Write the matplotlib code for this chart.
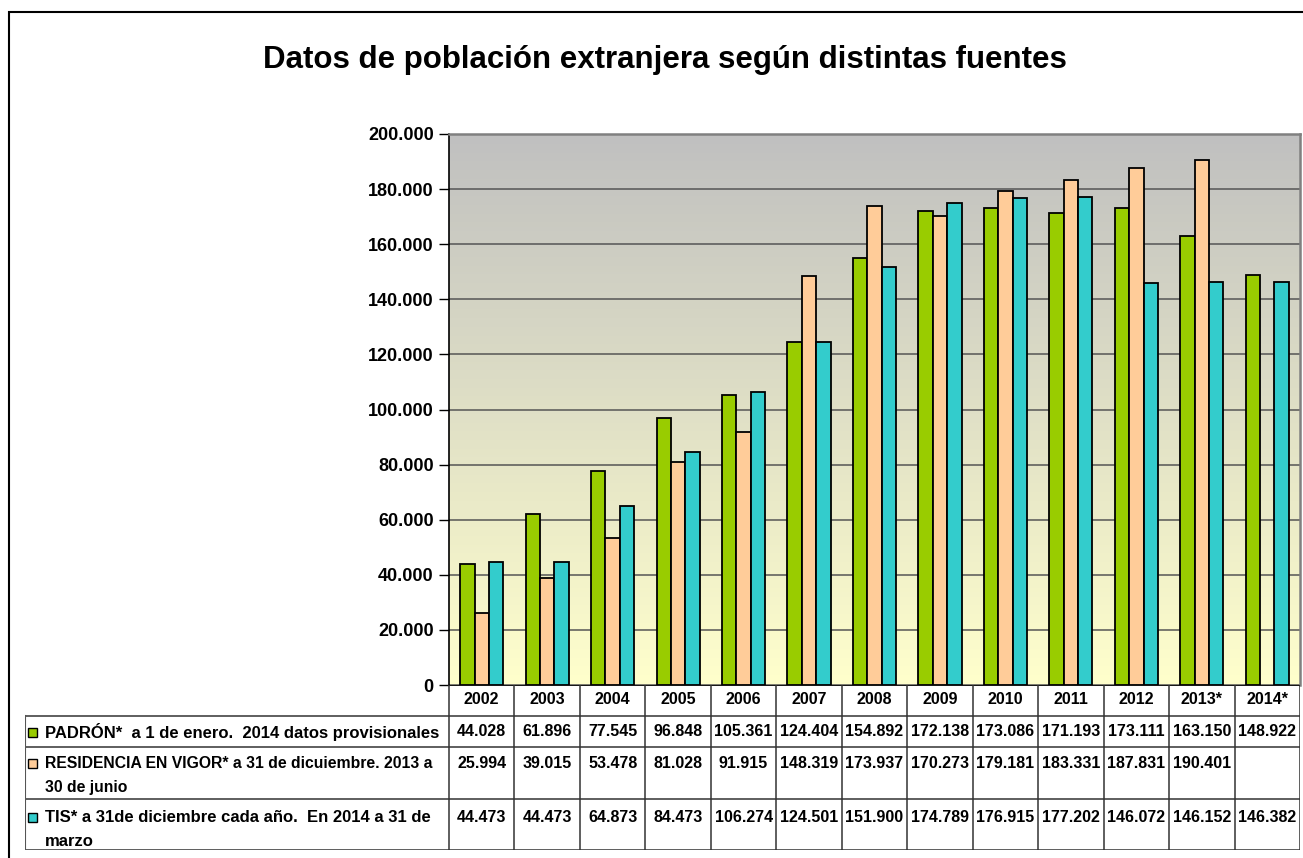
import numpy as np
import matplotlib
matplotlib.use('Agg')
import matplotlib.pyplot as plt
from matplotlib.patches import Rectangle
from matplotlib.ticker import FuncFormatter

plt.rcParams['font.family'] = ['Liberation Sans', 'DejaVu Sans']

years = ['2002', '2003', '2004', '2005', '2006', '2007', '2008', '2009',
         '2010', '2011', '2012', '2013*', '2014*']
padron = [44028, 61896, 77545, 96848, 105361, 124404, 154892, 172138,
          173086, 171193, 173111, 163150, 148922]
residencia = [25994, 39015, 53478, 81028, 91915, 148319, 173937, 170273,
              179181, 183331, 187831, 190401, np.nan]
tis = [44473, 44473, 64873, 84473, 106274, 124501, 151900, 174789,
       176915, 177202, 146072, 146152, 146382]

series_labels = ['PADRÓN*  a 1 de enero.  2014 datos provisionales',
                 'RESIDENCIA EN VIGOR* a 31 de dicuiembre. 2013 a\n30 de junio',
                 'TIS* a 31de diciembre cada año.  En 2014 a 31 de\nmarzo']
colors = ['#99CC00', '#FFCC99', '#33CCCC']
title = 'Datos de población extranjera según distintas fuentes'


def miles(v):
    return f'{int(v):,}'.replace(',', '.')


W, H = 1303, 858
fig = plt.figure(figsize=(W / 100, H / 100), dpi=100)

# outer frame (cut off at right/bottom like the original)
fig.patches.append(Rectangle((9 / W, -0.1), 1.2, 1 - 12 / H + 0.1, transform=fig.transFigure,
                             fill=False, edgecolor='black', linewidth=1.5))

fig.text(665 / W, 1 - 60 / H, title, ha='center', va='center', fontsize=22.5, fontweight='bold')

# main plot
ax = fig.add_axes([449 / W, 1 - 685 / H, (1300 - 449) / W, (685 - 134) / H])
x = np.arange(len(years))
ax.set_xlim(-0.5, len(years) - 0.5)
ax.set_ylim(0, 200000)

grad = np.linspace(0, 1, 256)[:, None]
top = np.array([192, 192, 192]) / 255
bot = np.array([255, 255, 204]) / 255
img = top[None, None, :] * (1 - grad[:, :, None]) + bot[None, None, :] * grad[:, :, None]
ax.imshow(img, extent=[-0.5, len(years) - 0.5, 0, 200000], aspect='auto', zorder=0)

ax.set_yticks(np.arange(0, 200001, 20000))
ax.yaxis.set_major_formatter(FuncFormatter(lambda v, p: miles(v)))
ax.grid(axis='y', color='#555555', linewidth=1.1, zorder=1)
ax.set_axisbelow(True)
ax.tick_params(axis='y', length=7, width=1, labelsize=13, pad=4)
for lab in ax.get_yticklabels():
    lab.set_fontweight('bold')
ax.set_xticks([])

bw = 0.22
for i, (vals, c) in enumerate(zip([padron, residencia, tis], colors)):
    ax.bar(x + (i - 1) * bw, vals, width=bw, color=c, edgecolor='black', linewidth=1.3, zorder=3)

for s in ['top', 'right']:
    ax.spines[s].set_color('#808080')
    ax.spines[s].set_linewidth(1.8)
ax.spines['left'].set_linewidth(1.2)
ax.spines['bottom'].set_visible(False)

# data table
tab = fig.add_axes([25 / W, 1 - 850 / H, (1300 - 25) / W, (850 - 685) / H])
lab_w = (449 - 25) / ((1300 - 449) / len(years))
x0 = -0.5 - lab_w
tab.set_xlim(x0, len(years) - 0.5)
tab.set_ylim(850, 685)
tab.axis('off')

row_edges = [685, 716, 747, 799, 850]
lc = '#333333'
tab.plot([-0.5, len(years) - 0.5], [685, 685], color='black', lw=1.3)
for y in row_edges[1:]:
    tab.plot([x0, len(years) - 0.5], [y, y], color=lc, lw=1.1)
tab.plot([x0, x0], [716, 850], color='#555555', lw=1.5)
for k in range(len(years) + 1):
    tab.plot([k - 0.5, k - 0.5], [685, 850], color=lc, lw=1.1)

for k, yr in enumerate(years):
    tab.text(k, 700, yr, ha='center', va='center', fontsize=11.5, fontweight='bold')

first_line = [732, 763, 817]
label_size = [12, 11.3, 12]
gap = 24.5
for r, (vals, lab, c) in enumerate(zip([padron, residencia, tis], series_labels, colors)):
    yc = first_line[r]
    for j, part in enumerate(lab.split('\n')):
        tab.text(x0 + 0.31, yc + j * gap, part, ha='left', va='center',
                 fontsize=label_size[r], fontweight='bold')
    tab.add_patch(Rectangle((x0 + 0.04, yc - 4.5), 0.14, 9, facecolor=c, edgecolor='black', lw=1))
    for k, v in enumerate(vals):
        if not np.isnan(v):
            tab.text(k, yc, miles(v), ha='center', va='center', fontsize=11.5, fontweight='bold')

fig.savefig('out.png', dpi=100)
